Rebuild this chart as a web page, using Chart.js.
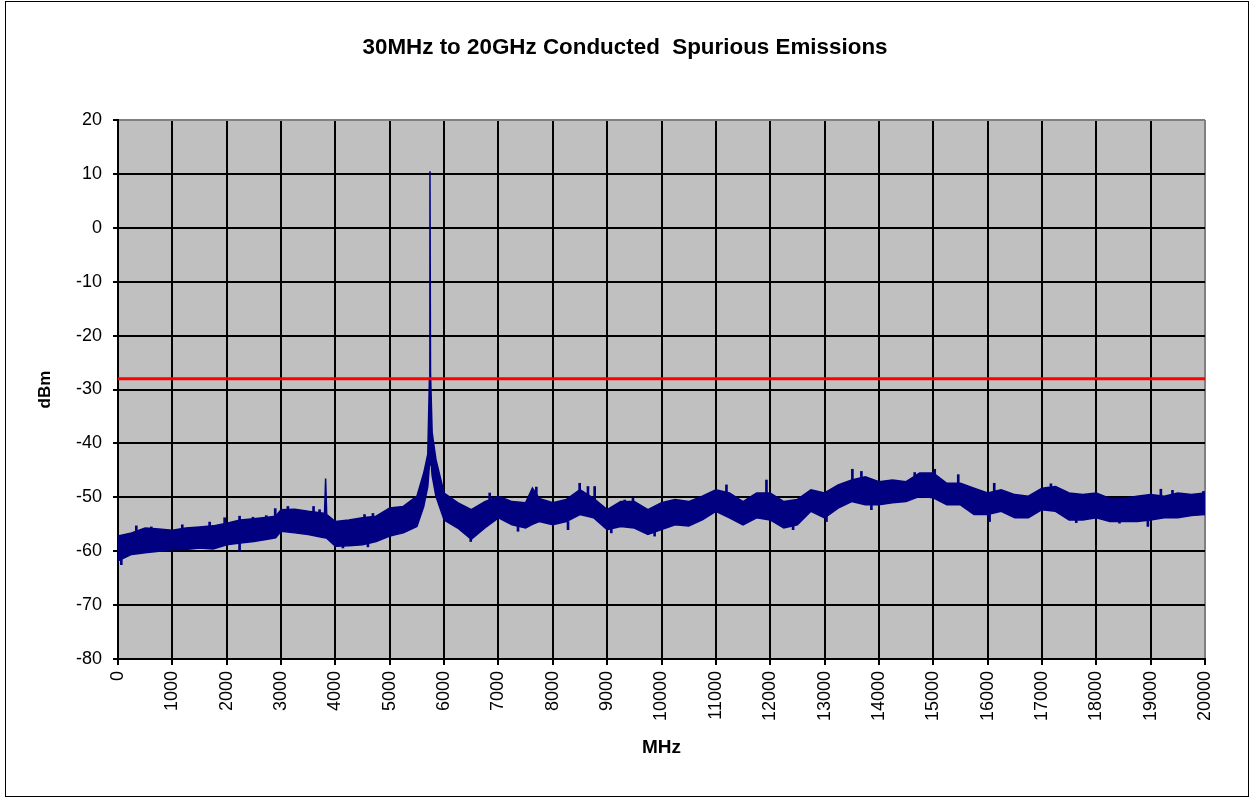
<!DOCTYPE html>
<html>
<head>
<meta charset="utf-8">
<title>Conducted Spurious Emissions</title>
<script src="https://cdn.jsdelivr.net/npm/chart.js@4.4.1/dist/chart.umd.min.js"></script>
<style>
    body { margin: 0; background: #fff; }
    #chart { display: block; }
</style>
</head>
<body>
<canvas id="chart" width="1250" height="798"></canvas>
<script>
const chartTitle = '30MHz to 20GHz Conducted  Spurious Emissions';

// frequency points (MHz)
const freqMHz = [0, 250, 500, 750, 1000, 1250, 1500, 1750, 2000, 2250, 2500, 2750, 2900,
    3000, 3250, 3500, 3750, 3800, 3820, 3840, 4000, 4250, 4500, 4750,
    5000, 5250, 5500, 5625, 5700, 5730, 5740, 5750, 5780, 5850,
    6000, 6250, 6500, 6750, 7000, 7250, 7500, 7625, 7750, 8000, 8250, 8500, 8750,
    9000, 9250, 9500, 9750, 10000, 10250, 10500, 10750, 11000, 11250, 11500, 11750,
    12000, 12250, 12500, 12750, 13000, 13250, 13500, 13750, 14000, 14250, 14500, 14750,
    15000, 15250, 15500, 15750, 16000, 16250, 16500, 16750, 17000, 17250, 17500, 17750,
    18000, 18250, 18500, 18750, 19000, 19250, 19500, 19750, 20000];

// upper edge of the noisy trace (dBm)
const traceTop = [-57.2, -56.6, -55.7, -55.9, -56.1, -55.7, -55.5, -55.3, -54.8, -54.2, -54.0, -53.7, -53.5,
    -52.3, -52.2, -52.6, -52.9, -53.0, -46.5, -53.2, -54.5, -54.2, -53.8, -53.5,
    -52.0, -51.7, -49.8, -45.5, -42.0, -28.0, 10.5, -27.0, -38.0, -43.0,
    -49.2, -51.0, -52.3, -50.8, -49.8, -50.8, -51.0, -48.3, -50.2, -51.0, -50.4, -48.6, -50.2,
    -52.3, -50.8, -50.8, -52.3, -51.0, -50.4, -50.8, -49.8, -48.6, -49.2, -50.8, -49.2,
    -49.2, -50.8, -50.4, -48.6, -49.2, -47.7, -46.8, -46.2, -47.1, -46.8, -47.1, -45.5,
    -45.5, -47.4, -47.4, -48.3, -49.2, -48.6, -49.5, -49.8, -48.3, -48.0, -49.2, -49.5,
    -49.2, -50.2, -50.2, -49.8, -49.5, -49.8, -49.2, -49.5, -49.2];

// lower edge of the noisy trace (dBm)
const traceBottom = [-61.8, -60.6, -60.3, -60.0, -59.7, -59.7, -59.4, -59.6, -58.8, -58.5, -58.2, -57.8, -57.5,
    -56.3, -56.6, -56.9, -57.4, -57.5, -57.5, -57.6, -59.1, -59.0, -58.8, -58.2,
    -57.2, -56.6, -55.4, -51.7, -48.0, -44.0, -40.0, -42.0, -46.0, -49.8,
    -54.2, -55.7, -57.8, -55.7, -53.8, -55.1, -55.7, -55.0, -54.5, -55.1, -54.5, -53.2, -53.8,
    -56.0, -55.4, -55.7, -56.9, -56.0, -55.1, -55.3, -54.2, -52.6, -53.8, -55.1, -53.8,
    -54.2, -55.7, -55.1, -52.6, -53.8, -52.0, -50.8, -51.4, -51.4, -51.0, -50.8, -49.8,
    -50.1, -51.4, -51.4, -53.2, -53.2, -52.6, -53.8, -53.8, -52.3, -52.6, -54.2, -54.2,
    -53.8, -54.5, -54.5, -54.5, -54.2, -53.8, -53.8, -53.4, -53.2];

// single noise spikes sticking out of the band
const spikeFreq = [337, 613, 1183, 1686, 1962, 2237, 2483, 2728, 2893, 3126, 3598, 3709, 4536, 4690,
    6839, 7697, 8494, 8647, 8770, 9322, 9475, 11195, 11931, 13512, 13678, 14659, 15027, 15460,
    16122, 17165, 19188, 19402, 19972,
    61, 2237, 4138, 4598, 6490, 7360, 8280, 9076, 9873, 12421, 13035, 13862, 16036, 17631, 18427, 18949];
const spikeLow = [-57.0, -57.0, -57.0, -56.5, -56.0, -55.5, -55.5, -55.0, -54.5, -53.5, -54.0, -54.0, -55.0, -55.0,
    -51.5, -51.0, -50.0, -50.5, -51.0, -52.0, -52.0, -50.0, -50.5, -48.0, -47.5, -47.0, -46.5, -48.5,
    -50.0, -49.5, -50.5, -50.5, -50.5,
    -62.5, -60.0, -59.4, -59.2, -58.2, -56.3, -56.0, -56.6, -57.2, -56.0, -54.5, -52.3, -54.5, -54.7, -54.8, -55.4];
const spikeHigh = [-55.3, -55.5, -55.1, -54.6, -53.8, -53.5, -53.7, -53.4, -52.1, -51.7, -51.7, -52.3, -53.2, -53.0,
    -49.2, -48.1, -47.4, -48.0, -48.0, -50.5, -50.2, -47.7, -46.8, -44.8, -45.2, -45.4, -44.8, -45.8,
    -47.4, -47.5, -48.5, -48.7, -48.9,
    -60.0, -58.0, -58.0, -58.0, -57.0, -55.0, -54.5, -55.5, -56.0, -55.0, -53.5, -51.0, -53.0, -53.5, -54.0, -54.0];

// limit line
const limitFreq = [0, 20000];
const limitLine = [-28, -28];

const fontFamily = "'Liberation Sans', Arial, sans-serif";

function toPoints(xs, ys) {
    return xs.map(function (x, i) { return { x: x, y: ys[i] }; });
}

function toSpikes(xs, lows, highs) {
    return xs.map(function (x, i) { return { x: x, y: [lows[i], highs[i]] }; });
}

// grey plot area, outer frame and the title
const backgroundPlugin = {
    id: 'background',
    beforeDraw: function (chart) {
        var ctx = chart.ctx;
        var a = chart.chartArea;
        ctx.save();
        ctx.fillStyle = '#ffffff';
        ctx.fillRect(0, 0, chart.width, chart.height);
        ctx.fillStyle = '#c0c0c0';
        ctx.fillRect(a.left, a.top, a.right - a.left, a.bottom - a.top);
        ctx.strokeStyle = '#000000';
        ctx.lineWidth = 1;
        ctx.strokeRect(5.5, 1.5, 1243, 795);
        ctx.fillStyle = '#000000';
        ctx.font = 'bold 22.4px ' + fontFamily;
        ctx.textAlign = 'center';
        ctx.textBaseline = 'alphabetic';
        ctx.fillText(chartTitle, chart.width / 2, 53.5);
        ctx.restore();
    }
};

new Chart(document.getElementById('chart').getContext('2d'), {
    type: 'line',
    data: {
        datasets: [{
            label: 'Limit',
            data: toPoints(limitFreq, limitLine),
            borderColor: '#ff0000',
            borderWidth: 3,
            pointRadius: 0,
            fill: false,
            order: 0
        }, {
            label: 'Trace top',
            data: toPoints(freqMHz, traceTop),
            borderColor: '#000080',
            borderWidth: 1.5,
            pointRadius: 0,
            fill: false,
            order: 1
        }, {
            label: 'Trace bottom',
            data: toPoints(freqMHz, traceBottom),
            borderColor: '#000080',
            backgroundColor: '#000080',
            borderWidth: 1.5,
            pointRadius: 0,
            fill: '-1',
            order: 2
        }, {
            type: 'bar',
            label: 'Spikes',
            data: toSpikes(spikeFreq, spikeLow, spikeHigh),
            backgroundColor: '#000080',
            borderWidth: 0,
            barThickness: 2,
            grouped: false,
            order: 3
        }]
    },
    options: {
        responsive: false,
        animation: false,
        layout: { padding: { left: 30, right: 45, top: 120, bottom: 0 } },
        plugins: {
            legend: { display: false },
            tooltip: { enabled: false },
            title: { display: false }
        },
        scales: {
            x: {
                type: 'linear',
                min: 0,
                max: 20000,
                offset: false,
                afterFit: function (scale) { scale.height = 139; },
                ticks: {
                    stepSize: 1000,
                    autoSkip: false,
                    minRotation: 90,
                    maxRotation: 90,
                    padding: 6,
                    color: '#000',
                    font: { family: fontFamily, size: 18 },
                    callback: function (v) { return String(v); }
                },
                grid: {
                    offset: false,
                    color: function (c) { return c.tick && c.tick.value === 20000 ? '#808080' : '#000'; },
                    tickColor: '#000',
                    lineWidth: 2,
                    tickLength: 6
                },
                border: { color: '#000', width: 2 },
                title: {
                    display: true,
                    text: 'MHz',
                    color: '#000',
                    font: { family: fontFamily, size: 19, weight: 'bold' },
                    padding: { top: 0, bottom: 39 }
                }
            },
            y: {
                min: -80,
                max: 20,
                afterFit: function (scale) { scale.width = 88; },
                ticks: {
                    stepSize: 10,
                    padding: 11,
                    color: '#000',
                    font: { family: fontFamily, size: 18 }
                },
                grid: {
                    color: function (c) { return c.tick && c.tick.value === 20 ? '#808080' : '#000'; },
                    tickColor: '#000',
                    lineWidth: 2,
                    tickLength: 5
                },
                border: { color: '#000', width: 2 },
                title: {
                    display: true,
                    text: 'dBm',
                    color: '#000',
                    font: { family: fontFamily, size: 17, weight: 'bold' },
                    padding: { top: 5, bottom: 0 }
                }
            }
        }
    },
    plugins: [backgroundPlugin]
});
</script>
</body>
</html>
